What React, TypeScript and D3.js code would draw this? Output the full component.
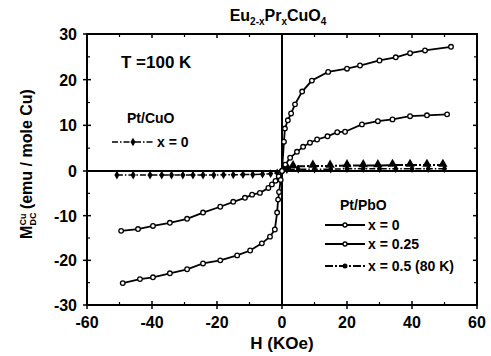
import React from "react";
import * as d3 from "d3";

// Pt/PbO x = 0 (large curve)
const pboX0H = [-49, -43.7, -39.7, -34.5, -29.2, -24.3, -19, -13.8, -9.8, -6.2, -3.7, -2.2, -1.5, -1.2, -0.9, -0.4, 0, 0.6, 0.9, 1.8, 2.8, 4, 6.2, 9.2, 14.2, 20, 24, 30, 35, 39.4, 44, 52];
const pboX0M = [-25.1, -24.2, -23.8, -22.9, -22, -20.7, -20, -18.9, -17.8, -16.2, -14.7, -13.1, -9.3, -6.4, -4.7, -2, 0, 6.4, 9.3, 11.1, 12.6, 14.6, 17.4, 19.8, 21.7, 22.4, 23.1, 24.2, 24.9, 25.8, 26.4, 27.2];

// Pt/PbO x = 0.25 (middle curve)
const pboX25H = [-49.5, -44.3, -39.7, -34.5, -29.2, -24.3, -19, -15, -11.4, -9.2, -6.8, -4.2, -3.1, -2, -1, 0, 1, 2.5, 4.6, 6.5, 8.6, 10.8, 14, 17, 19.4, 24.6, 29.5, 34, 39.4, 44.6, 50.8];
const pboX25M = [-13.4, -13, -12.3, -11.6, -10.7, -9.3, -8, -6.9, -6, -5.3, -4.9, -3.8, -3.0, -2.2, -1.2, 0, 1.4, 2.9, 4.2, 5.3, 6.2, 6.9, 7.6, 8.5, 8.6, 10.2, 10.9, 11.3, 12, 12.2, 12.4];

// Pt/PbO x = 0.5 (80 K)
const pboX5H = [0.5, 1.5, 3.4, 9.5, 14.8, 20, 25, 29.5, 34, 39.4, 44.6, 49.5];
const pboX5M = [0.3, 0.7, 1.0, 1.1, 1.1, 1.2, 1.2, 1.2, 1.3, 1.3, 1.3, 1.3];

// Pt/CuO x = 0
const cuoH = [-50.8, -45.8, -40.6, -37, -34, -30.5, -27.4, -24.3, -21, -18, -15, -12, -9, -6, -3.5, -1.5, 0, 1.5, 5, 10, 15, 20, 25, 30, 35, 40, 45, 50];
const cuoM = [-0.9, -0.9, -0.9, -0.9, -0.9, -0.9, -0.9, -0.9, -0.9, -0.85, -0.85, -0.8, -0.8, -0.7, -0.6, -0.4, 0, 0.3, 0.4, 0.4, 0.4, 0.5, 0.5, 0.5, 0.5, 0.5, 0.5, 0.5];

const xTicks = [-60, -40, -20, 0, 20, 40, 60];
const xMinor = [-50, -30, -10, 10, 30, 50];
const yTicks = [-30, -20, -10, 0, 10, 20, 30];
const yMinor = [-25, -15, -5, 5, 15, 25];

const FONT = "'Liberation Sans', Arial, sans-serif";

export default function App() {
  const x = d3.scaleLinear().domain([-60, 60]).range([87, 477]);
  const y = d3.scaleLinear().domain([-30, 0, 30]).range([305, 171, 34]);
  const x0 = x(-60), x1 = x(60), yb = y(-30), yt = y(30);

  const zip = (hs: number[], ms: number[]) => hs.map((h, i) => [h, ms[i]] as [number, number]);
  const line = d3.line<[number, number]>().x(d => x(d[0])).y(d => y(d[1]));

  const big = zip(pboX0H, pboX0M);
  const mid = zip(pboX25H, pboX25M);
  const half = zip(pboX5H, pboX5M);
  const cuo = zip(cuoH, cuoM);

  const diamond = d3.symbol().type(d3.symbolDiamond).size(22)()!;
  const tri = d3.symbol().type(d3.symbolTriangle).size(38)()!;

  return (
    <svg width={491} height={356} style={{ display: "block", position: "absolute", left: 0, top: 0, background: "#fff" }} fontFamily={FONT}>
      <rect x={0} y={0} width={491} height={356} fill="#fff" />
      {/* title */}
      <text x={278} y={21} textAnchor="middle" fontSize={16} fontWeight="bold">
        Eu<tspan fontSize={10} dy={4}>2-x</tspan><tspan dy={-4}>Pr</tspan><tspan fontSize={10} dy={4}>x</tspan><tspan dy={-4}>CuO</tspan><tspan fontSize={10} dy={4}>4</tspan>
      </text>

      {/* frame */}
      <rect x={x0} y={yt} width={x1 - x0} height={yb - yt} fill="none" stroke="#000" strokeWidth={2} />
      {/* zero lines */}
      <line x1={x(0)} x2={x(0)} y1={yt} y2={yb} stroke="#000" strokeWidth={2} />
      <line x1={x0} x2={x1} y1={y(0)} y2={y(0)} stroke="#000" strokeWidth={2} />

      {/* x ticks */}
      {xTicks.map(t => (
        <g key={"xt" + t}>
          <line x1={x(t)} x2={x(t)} y1={yb - 4} y2={yb + 4} stroke="#000" strokeWidth={1.5} />
          <line x1={x(t)} x2={x(t)} y1={yt} y2={yt + 4} stroke="#000" strokeWidth={1.5} />
          <text x={x(t)} y={328} textAnchor="middle" fontSize={16} fontWeight="bold">{t}</text>
        </g>
      ))}
      {xMinor.map(t => (
        <g key={"xm" + t}>
          <line x1={x(t)} x2={x(t)} y1={yb - 3} y2={yb} stroke="#000" strokeWidth={1.2} />
          <line x1={x(t)} x2={x(t)} y1={yt} y2={yt + 3} stroke="#000" strokeWidth={1.2} />
        </g>
      ))}
      {/* y ticks */}
      {yTicks.map(t => (
        <g key={"yt" + t}>
          <line x1={x0 - 4} x2={x0 + 4} y1={y(t)} y2={y(t)} stroke="#000" strokeWidth={1.5} />
          <line x1={x1 - 4} x2={x1} y1={y(t)} y2={y(t)} stroke="#000" strokeWidth={1.5} />
          <text x={77} y={y(t) + 6} textAnchor="end" fontSize={16} fontWeight="bold">{t}</text>
        </g>
      ))}
      {yMinor.map(t => (
        <g key={"ym" + t}>
          <line x1={x0} x2={x0 + 3} y1={y(t)} y2={y(t)} stroke="#000" strokeWidth={1.2} />
          <line x1={x1 - 3} x2={x1} y1={y(t)} y2={y(t)} stroke="#000" strokeWidth={1.2} />
        </g>
      ))}

      {/* axis titles */}
      <text x={282} y={349} textAnchor="middle" fontSize={17} fontWeight="bold">H (KOe)</text>
      <text transform="translate(32,164) rotate(-90)" textAnchor="middle" fontSize={16} fontWeight="bold">
        M<tspan fontSize={9} dy={4}>DC</tspan><tspan fontSize={9} dx={-13} dy={-10}>Cu</tspan><tspan dy={6}> (emu / mole Cu)</tspan>
      </text>

      {/* Pt/CuO x=0 */}
      <path d={line(cuo)!} fill="none" stroke="#000" strokeWidth={1.5} strokeDasharray="6,2,1.5,2" />
      {cuo.map((d, i) => (
        <path key={"c" + i} d={diamond} transform={`translate(${x(d[0])},${y(d[1])})`} fill="#000" />
      ))}

      {/* x = 0.5 (80 K) */}
      <path d={line(half)!} fill="none" stroke="#000" strokeWidth={2} strokeDasharray="8,2,2,2" />
      {half.map((d, i) => (
        <path key={"h" + i} d={tri} transform={`translate(${x(d[0])},${y(d[1]) - 1})`} fill="#000" />
      ))}

      {/* x = 0.25 */}
      <path d={line(mid)!} fill="none" stroke="#000" strokeWidth={1.8} />
      {mid.map((d, i) => (
        <circle key={"m" + i} cx={x(d[0])} cy={y(d[1])} r={2.3} fill="#fff" stroke="#000" strokeWidth={1.3} />
      ))}

      {/* x = 0 */}
      <path d={line(big)!} fill="none" stroke="#000" strokeWidth={1.8} />
      {big.map((d, i) => (
        <circle key={"b" + i} cx={x(d[0])} cy={y(d[1])} r={2.3} fill="#fff" stroke="#000" strokeWidth={1.3} />
      ))}

      {/* labels */}
      <text x={121} y={68} fontSize={17} fontWeight="bold">T =100 K</text>

      <text x={127} y={123} fontSize={14} fontWeight="bold">Pt/CuO</text>
      <line x1={112} x2={153} y1={142} y2={142} stroke="#000" strokeWidth={1.5} strokeDasharray="6,2,1.5,2" />
      <path d={diamond} transform="translate(133,142)" fill="#000" />
      <text x={157} y={147} fontSize={14} fontWeight="bold">x = 0</text>

      <text x={340} y={210} fontSize={14} fontWeight="bold">Pt/PbO</text>
      <line x1={325} x2={365} y1={225} y2={225} stroke="#000" strokeWidth={1.8} />
      <circle cx={345} cy={225} r={2} fill="#fff" stroke="#000" strokeWidth={1.3} />
      <text x={368} y={230} fontSize={14} fontWeight="bold">x = 0</text>
      <line x1={325} x2={365} y1={244} y2={244} stroke="#000" strokeWidth={1.8} />
      <circle cx={345} cy={244} r={2} fill="#fff" stroke="#000" strokeWidth={1.3} />
      <text x={368} y={249} fontSize={14} fontWeight="bold">x = 0.25</text>
      <line x1={325} x2={365} y1={266} y2={266} stroke="#000" strokeWidth={1.8} strokeDasharray="8,2,2,2" />
      <circle cx={345} cy={266} r={2.5} fill="#000" />
      <text x={368} y={271} fontSize={14} fontWeight="bold">x = 0.5 (80 K)</text>
    </svg>
  );
}
